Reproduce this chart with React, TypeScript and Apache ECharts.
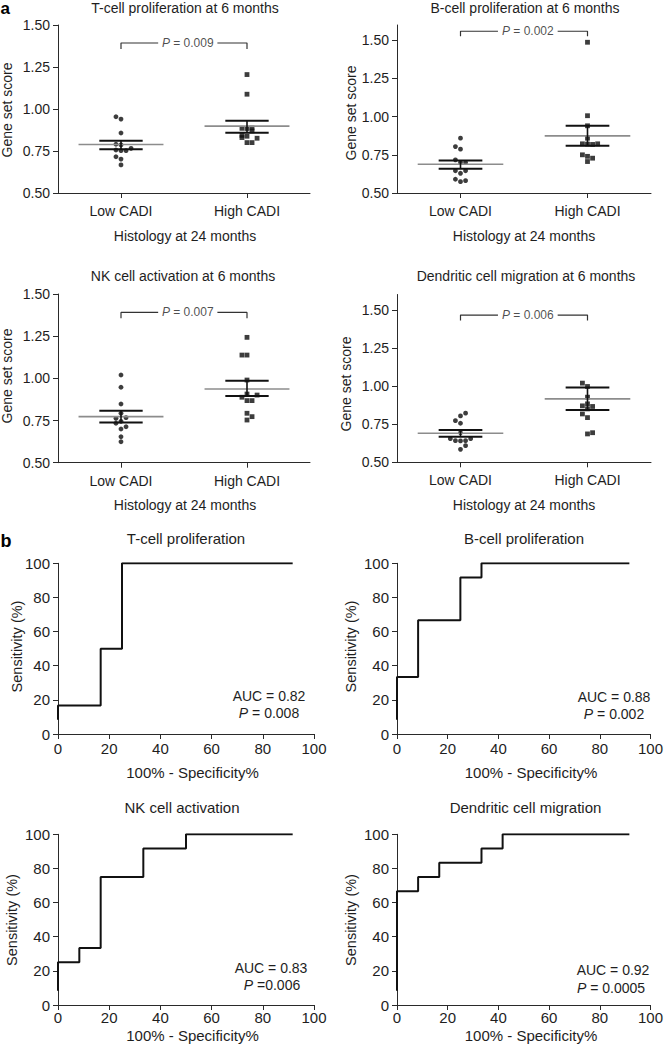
import React, { useEffect, useRef } from 'react';
import * as echarts from 'echarts';

// ---------- categories / labels ----------
const groupNames = ['Low CADI', 'High CADI'];
const scatterTitles = [
  'T-cell proliferation at 6 months',
  'B-cell proliferation at 6 months',
  'NK cell activation at 6 months',
  'Dendritic cell migration at 6 months',
];
const rocTitles = ['T-cell proliferation', 'B-cell proliferation', 'NK cell activation', 'Dendritic cell migration'];
const scoreTicks = [0.5, 0.75, 1.0, 1.25, 1.5];
const scoreMax = [1.5, 1.6, 1.5, 1.6];
const rocTicks = [0, 20, 40, 60, 80, 100];

// ---------- panel a: gene set scores (value, horizontal slot) ----------
const tLowScores = [0.954, 0.94, 0.857, 0.79, 0.786, 0.756, 0.752, 0.752, 0.766, 0.716, 0.702, 0.667];
const tLowSlots = [-1, 0, 0, -1, 0, -1, 0, 1, 2, -1, 0, 0];
const tHighScores = [1.205, 1.088, 0.885, 0.884, 0.887, 0.87, 0.843, 0.83, 0.838, 0.826, 0.8, 0.8];
const tHighSlots = [0, 0, -1, 0, 1, 1, -1, -1, 0, 2, 0, 1];

const bLowScores = [0.859, 0.804, 0.787, 0.717, 0.699, 0.699, 0.646, 0.629, 0.646, 0.59, 0.574, 0.581];
const bLowSlots = [0, -1, 0, -1, 0, 1, -1, 0, 1, -1, 0, 1];
const bHighScores = [1.487, 1.006, 0.94, 0.859, 0.822, 0.82, 0.818, 0.822, 0.75, 0.74, 0.728, 0.706];
const bHighSlots = [0, 0, 0, 0, -1, 0, 1, 2, -1, 0, 1, 0];

const nkLowScores = [1.02, 0.947, 0.848, 0.793, 0.763, 0.745, 0.767, 0.734, 0.713, 0.7, 0.654, 0.624];
const nkLowSlots = [0, 0, 0, 0, -1, 0, 1, -1, 1, 0, 0, 0];
const nkHighScores = [1.243, 1.138, 1.138, 0.99, 0.907, 0.888, 0.901, 0.868, 0.868, 0.793, 0.753, 0.773];
const nkHighSlots = [0, -1, 0, 0, 0, -1, 2, 0, 1, 0, 0, 1];

const dcLowScores = [0.822, 0.804, 0.773, 0.756, 0.694, 0.655, 0.642, 0.64, 0.642, 0.655, 0.609, 0.585];
const dcLowSlots = [1, 0, -1, 0, 0, -2, -1, 0, 1, 2, 1, 0];
const dcHighScores = [1.019, 0.997, 0.927, 0.883, 0.87, 0.866, 0.85, 0.817, 0.793, 0.686, 0.694];
const dcHighSlots = [-1, 0, 0, 0, -1, 1, 0, -1, 0, 0, 1];

// mean ± SEM per panel
const lowMean = [0.789, 0.688, 0.773, 0.69];
const lowSemHigh = [0.811, 0.712, 0.808, 0.712];
const lowSemLow = [0.76, 0.658, 0.739, 0.668];
const highMean = [0.898, 0.874, 0.937, 0.916];
const highSemHigh = [0.93, 0.94, 0.986, 0.99];
const highSemLow = [0.859, 0.81, 0.895, 0.843];

const pValues = ['0.009', '0.002', '0.007', '0.006'];
const bracketLevel = [1.393, 1.559, 1.391, 1.465];
const bracketDrop = [1.357, 1.526, 1.356, 1.43];

// ---------- panel b: ROC curves ----------
const tFpr = [0, 0, 16.67, 16.67, 25, 25, 91.67];
const tTpr = [8.33, 16.67, 16.67, 50, 50, 100, 100];
const bFpr = [0, 0, 8.33, 8.33, 25, 25, 33.33, 33.33, 91.67];
const bTpr = [8.33, 33.33, 33.33, 66.67, 66.67, 91.67, 91.67, 100, 100];
const nkFpr = [0, 0, 8.33, 8.33, 16.67, 16.67, 33.33, 33.33, 50, 50, 91.67];
const nkTpr = [8.33, 25, 25, 33.33, 33.33, 75, 75, 91.67, 91.67, 100, 100];
const dcFpr = [0, 0, 8.33, 8.33, 16.67, 16.67, 33.33, 33.33, 41.67, 41.67, 91.67];
const dcTpr = [8.33, 66.67, 66.67, 75, 75, 83.33, 83.33, 91.67, 91.67, 100, 100];
const aucValues = ['0.82', '0.88', '0.83', '0.92'];
const rocPTexts = [' = 0.008', ' = 0.002', ' =0.006', ' = 0.0005'];

// ---------- styling / layout ----------
const FONT = "'Liberation Sans', Arial, Helvetica, sans-serif";
const INK = '#1e1e1e';
const AXIS = '#2a2a2a';
const STEP = 0.04;
const MEAN_HALF = 0.337;
const SEM_HALF = 0.172;
const P_X = 1.03;
const P_GAP = 0.235;

const scatterGrids = [
  { left: 58, top: 25, width: 252, height: 168 },
  { left: 397, top: 25, width: 254, height: 168 },
  { left: 58, top: 294, width: 252, height: 168.7 },
  { left: 397, top: 294.5, width: 254, height: 167.8 },
];
const rocGrids = [
  { left: 58, top: 563.3, width: 256, height: 170.7 },
  { left: 397, top: 563.3, width: 256.5, height: 170.7 },
  { left: 58, top: 834.3, width: 256, height: 170.7 },
  { left: 397, top: 834.3, width: 256.5, height: 170.7 },
];
const rocLabelMargin = [7, 7, 5, 5];

function buildOption() {
  const scatterSets = [
    { low: tLowScores, lowSlots: tLowSlots, high: tHighScores, highSlots: tHighSlots },
    { low: bLowScores, lowSlots: bLowSlots, high: bHighScores, highSlots: bHighSlots },
    { low: nkLowScores, lowSlots: nkLowSlots, high: nkHighScores, highSlots: nkHighSlots },
    { low: dcLowScores, lowSlots: dcLowSlots, high: dcHighScores, highSlots: dcHighSlots },
  ];
  const rocSets = [
    { fpr: tFpr, tpr: tTpr },
    { fpr: bFpr, tpr: bTpr },
    { fpr: nkFpr, tpr: nkTpr },
    { fpr: dcFpr, tpr: dcTpr },
  ];

  const grids: any[] = [];
  const xAxes: any[] = [];
  const yAxes: any[] = [];
  const series: any[] = [];

  const axisLine = { show: true, lineStyle: { color: AXIS, width: 1 } };
  const axisTick = (vals: number[]) => ({
    show: true, length: 5, customValues: vals, lineStyle: { color: AXIS, width: 1 },
  });
  const line = (axis: number, pts: number[][], color: string, width: number) => ({
    type: 'line', xAxisIndex: axis, yAxisIndex: axis, data: pts, symbol: 'none', showSymbol: false,
    lineStyle: { color, width }, silent: true, z: 3, animation: false,
  });

  scatterSets.forEach((s, i) => {
    const g = scatterGrids[i];
    grids.push({ ...g, containLabel: false });
    xAxes.push({
      type: 'value', gridIndex: i, min: 0, max: 2,
      axisLine, axisTick: axisTick([0.5, 1.5]),
      axisLabel: {
        customValues: [0.5, 1.5],
        formatter: (v: number) => groupNames[Math.round(v - 0.5)],
        margin: 11, fontSize: 14, color: INK, fontFamily: FONT,
      },
      splitLine: { show: false },
    });
    yAxes.push({
      type: 'value', gridIndex: i, min: 0.5, max: scoreMax[i],
      axisLine, axisTick: axisTick(scoreTicks),
      axisLabel: {
        customValues: scoreTicks,
        formatter: (v: number) => v.toFixed(2),
        margin: 8, fontSize: 14, color: INK, fontFamily: FONT,
      },
      splitLine: { show: false },
    });

    series.push({
      type: 'scatter', xAxisIndex: i, yAxisIndex: i, symbol: 'circle', symbolSize: 4.8,
      itemStyle: { color: '#0d0d0d' },
      data: s.low.map((v, k) => [0.5 + s.lowSlots[k] * STEP, v]),
    });
    series.push({
      type: 'scatter', xAxisIndex: i, yAxisIndex: i, symbol: 'rect', symbolSize: 4.8,
      itemStyle: { color: '#0d0d0d' },
      data: s.high.map((v, k) => [1.5 + s.highSlots[k] * STEP, v]),
    });

    const groups = [
      { c: 0.5, m: lowMean[i], hi: lowSemHigh[i], lo: lowSemLow[i] },
      { c: 1.5, m: highMean[i], hi: highSemHigh[i], lo: highSemLow[i] },
    ];
    groups.forEach((gr) => {
      series.push(line(i, [[gr.c - MEAN_HALF, gr.m], [gr.c + MEAN_HALF, gr.m]], '#8c8c8c', 1.6));
      series.push(line(i, [[gr.c - SEM_HALF, gr.hi], [gr.c + SEM_HALF, gr.hi]], '#111', 2));
      series.push(line(i, [[gr.c - SEM_HALF, gr.lo], [gr.c + SEM_HALF, gr.lo]], '#111', 2));
      series.push(line(i, [[gr.c, gr.lo], [gr.c, gr.hi]], '#111', 1.6));
    });

    series.push(line(i, [[0.5, bracketDrop[i]], [0.5, bracketLevel[i]], [P_X - P_GAP, bracketLevel[i]]], '#333', 1.2));
    series.push(line(i, [[P_X + P_GAP, bracketLevel[i]], [1.5, bracketLevel[i]], [1.5, bracketDrop[i]]], '#333', 1.2));
    series.push({
      type: 'scatter', xAxisIndex: i, yAxisIndex: i, symbolSize: 1,
      itemStyle: { color: 'rgba(0,0,0,0)' }, silent: true,
      data: [[P_X, bracketLevel[i]]],
      label: {
        show: true, position: 'inside', formatter: `{i|P} = ${pValues[i]}`,
        fontSize: 12, fontFamily: FONT, color: INK,
        rich: { i: { fontStyle: 'italic', fontSize: 12, fontFamily: FONT, color: INK } },
      },
    });
  });

  rocSets.forEach((r, j) => {
    const i = j + 4;
    grids.push({ ...rocGrids[j], containLabel: false });
    xAxes.push({
      type: 'value', gridIndex: i, min: 0, max: 100,
      axisLine, axisTick: axisTick(rocTicks),
      axisLabel: { customValues: rocTicks, margin: rocLabelMargin[j], fontSize: 15, color: INK, fontFamily: FONT },
      splitLine: { show: false },
    });
    yAxes.push({
      type: 'value', gridIndex: i, min: 0, max: 100,
      axisLine, axisTick: axisTick(rocTicks),
      axisLabel: { customValues: rocTicks, margin: 8, fontSize: 15, color: INK, fontFamily: FONT },
      splitLine: { show: false },
    });
    series.push({
      type: 'line', xAxisIndex: i, yAxisIndex: i, symbol: 'none', showSymbol: false,
      lineStyle: { color: '#111', width: 2 },
      data: r.fpr.map((x, k) => [x, r.tpr[k]]),
    });
  });

  const txt = (text: string, x: number, y: number, size: number, extra: any = {}) => ({
    type: 'text', x, y, silent: true,
    style: { text, fontSize: size, fontFamily: FONT, fill: INK, align: 'center', verticalAlign: 'middle', ...extra },
  });
  const vtxt = (text: string, x: number, y: number, size: number) => ({
    ...txt(text, x, y, size), rotation: Math.PI / 2,
  });
  const richStyle = { rich: { i: { fontStyle: 'italic', fontSize: 14, fontFamily: FONT, fill: INK } } };

  const graphics: any[] = [
    txt('a', 0.5, 8.5, 17, { align: 'left', fontWeight: 'bold', fill: '#000' }),
    txt('b', 0.5, 541, 18, { align: 'left', fontWeight: 'bold', fill: '#000' }),
    // scatter titles
    txt(scatterTitles[0], 185, 7.5, 14),
    txt(scatterTitles[1], 525, 7.5, 14),
    txt(scatterTitles[2], 183, 275.5, 14),
    txt(scatterTitles[3], 526, 276, 14),
    // scatter axis names
    txt('Histology at 24 months', 185, 235.5, 14),
    txt('Histology at 24 months', 524, 236, 14),
    txt('Histology at 24 months', 185, 504.5, 14),
    txt('Histology at 24 months', 524, 505, 14),
    vtxt('Gene set score', 7, 110, 14),
    vtxt('Gene set score', 351, 113, 14),
    vtxt('Gene set score', 6.5, 376, 14),
    vtxt('Gene set score', 346, 384, 14),
    // ROC titles
    txt(rocTitles[0], 186, 538.5, 15),
    txt(rocTitles[1], 524, 538.5, 15),
    txt(rocTitles[2], 182, 807.5, 15),
    txt(rocTitles[3], 525.5, 807.5, 15),
    // ROC axis names
    txt('100% - Specificity%', 192.5, 772, 15),
    txt('100% - Specificity%', 531, 772, 15),
    txt('100% - Specificity%', 192.5, 1035, 15),
    txt('100% - Specificity%', 531, 1035, 15),
    vtxt('Sensitivity (%)', 16.5, 646.5, 14.5),
    vtxt('Sensitivity (%)', 351, 646.5, 14.5),
    vtxt('Sensitivity (%)', 12, 920, 14.5),
    vtxt('Sensitivity (%)', 351, 920, 14.5),
    // AUC / P annotations
    txt(`AUC = ${aucValues[0]}`, 269, 695.5, 14),
    txt(`{i|P}${rocPTexts[0]}`, 269, 712.5, 14, richStyle),
    txt(`AUC = ${aucValues[1]}`, 614, 697, 14),
    txt(`{i|P}${rocPTexts[1]}`, 614, 714, 14, richStyle),
    txt(`AUC = ${aucValues[2]}`, 271, 967.5, 14),
    txt(`{i|P}${rocPTexts[2]}`, 272, 984.5, 14, richStyle),
    txt(`AUC = ${aucValues[3]}`, 613, 970, 14),
    txt(`{i|P}${rocPTexts[3]}`, 611, 987.5, 14, richStyle),
  ];

  return {
    animation: false,
    backgroundColor: '#ffffff',
    textStyle: { fontFamily: FONT },
    grid: grids,
    xAxis: xAxes,
    yAxis: yAxes,
    series,
    graphic: graphics,
  };
}

export default function App() {
  const ref = useRef<HTMLDivElement>(null);
  useEffect(() => {
    if (!ref.current) return;
    const chart = echarts.init(ref.current, null, { renderer: 'svg' });
    chart.setOption(buildOption() as any);
    return () => chart.dispose();
  }, []);
  return (
    <div
      ref={ref}
      style={{ position: 'absolute', left: 0, top: 0, width: 666, height: 1050, background: '#fff' }}
    />
  );
}
